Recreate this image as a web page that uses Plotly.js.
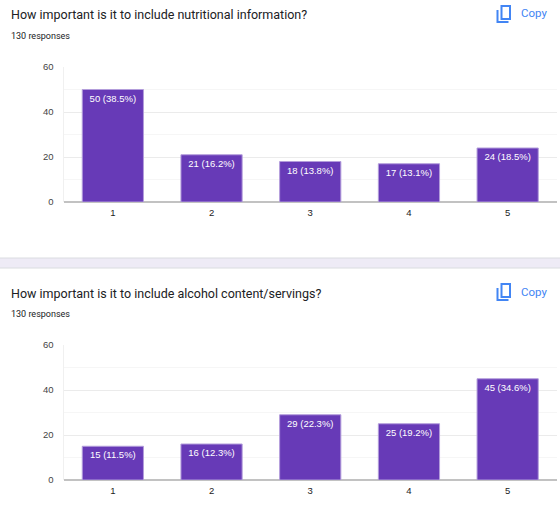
<!DOCTYPE html>
<html>
<head>
<meta charset="utf-8">
<script src="https://cdn.plot.ly/plotly-3.0.1.min.js"></script>
<style>
  html, body { margin: 0; padding: 0; background: #ffffff; }
  #chart { width: 560px; height: 515px; }
</style>
</head>
<body>
<div id="chart"></div>
<script>
const categories = ["1", "2", "3", "4", "5"];

const nutritionCounts = [50, 21, 18, 17, 24];
const nutritionPercents = ["38.5", "16.2", "13.8", "13.1", "18.5"];

const alcoholCounts = [15, 16, 29, 25, 45];
const alcoholPercents = ["11.5", "12.3", "22.3", "19.2", "34.6"];

const questions = [
  "How important is it to include nutritional information?",
  "How important is it to include alcohol content/servings?",
];
const responseLabel = "130 responses";
const yTicks = [0, 20, 40, 60];

const W = 560;
const H = 515;
const px = (x) => x / W;
const py = (y) => 1 - y / H;

const BAR_COLOR = "#673ab7";
const BLUE = "#4285f4";
const TITLE_FONT = "Roboto, Arial, sans-serif";
const CHART_FONT = "'Liberation Sans', Arial, sans-serif";

function barTrace(counts, percents, axisSuffix) {
  return {
    type: "bar",
    x: categories,
    y: counts,
    xaxis: "x" + axisSuffix,
    yaxis: "y" + axisSuffix,
    text: counts.map((c, i) => `${c} (${percents[i]}%)`),
    textposition: "inside",
    insidetextanchor: "end",
    textangle: 0,
    constraintext: "none",
    textfont: { family: CHART_FONT, size: 9.5, color: "#ffffff" },
    marker: { color: BAR_COLOR, line: { color: "#b39ddb", width: 1 } },
    hoverinfo: "none",
  };
}

function xAxis(anchor) {
  return {
    anchor: anchor,
    domain: [px(63.5), px(557)],
    type: "category",
    showgrid: false,
    zeroline: false,
    showline: false,
    ticks: "outside",
    ticklen: 2,
    tickcolor: "rgba(0,0,0,0)",
    tickfont: { family: CHART_FONT, size: 9.5, color: "#222222" },
    fixedrange: true,
  };
}

function yAxis(anchor, top, bottom) {
  return {
    anchor: anchor,
    domain: [py(bottom), py(top)],
    range: [0, 60],
    tickvals: yTicks,
    showgrid: true,
    gridcolor: "#ebebeb",
    gridwidth: 1,
    minor: { dtick: 10, showgrid: true, gridcolor: "#f6f6f6", gridwidth: 1 },
    zeroline: true,
    zerolinecolor: "#c2c2c2",
    zerolinewidth: 2,
    showline: true,
    linecolor: "#f0f0f0",
    linewidth: 1,
    ticks: "outside",
    ticklen: 7,
    tickcolor: "rgba(0,0,0,0)",
    tickfont: { family: CHART_FONT, size: 9.5, color: "#444444" },
    fixedrange: true,
  };
}

function headerAnnotations(title, titleY, responsesY) {
  return [
    {
      text: title, xref: "paper", yref: "paper", x: px(9), y: py(titleY),
      xanchor: "left", yanchor: "middle", showarrow: false,
      font: { family: TITLE_FONT, size: 12.5, color: "#202124" },
    },
    {
      text: responseLabel, xref: "paper", yref: "paper", x: px(9), y: py(responsesY),
      xanchor: "left", yanchor: "middle", showarrow: false,
      font: { family: TITLE_FONT, size: 9, color: "#202124" },
    },
    {
      text: "Copy", xref: "paper", yref: "paper", x: px(519), y: py(titleY - 1.5),
      xanchor: "left", yanchor: "middle", showarrow: false,
      font: { family: TITLE_FONT, size: 11.5, color: BLUE },
    },
  ];
}

// material "content_copy" glyph drawn from shapes
function copyIcon(top) {
  const line = { color: BLUE, width: 2 };
  return [
    {
      type: "rect", xref: "paper", yref: "paper",
      x0: px(501.5), x1: px(510), y0: py(top + 14), y1: py(top + 1),
      line: line, fillcolor: "rgba(0,0,0,0)",
    },
    {
      type: "path", xref: "paper", yref: "paper",
      path: `M ${px(497.5)} ${py(top + 5)} L ${px(497.5)} ${py(top + 17)} L ${px(508.5)} ${py(top + 17)}`,
      line: line,
    },
  ];
}

const separator = {
  type: "rect", xref: "paper", yref: "paper", layer: "below",
  x0: -0.01, x1: 1.01, y0: py(268), y1: py(258),
  fillcolor: "#eeebf6", line: { color: "#dadce0", width: 1 },
};

const traces = [
  barTrace(nutritionCounts, nutritionPercents, ""),
  barTrace(alcoholCounts, alcoholPercents, "2"),
];

const layout = {
  width: W,
  height: H,
  margin: { l: 0, r: 0, t: 0, b: 0 },
  paper_bgcolor: "#ffffff",
  plot_bgcolor: "#ffffff",
  showlegend: false,
  bargap: 0.38,
  xaxis: xAxis("y"),
  yaxis: yAxis("x", 67, 202),
  xaxis2: xAxis("y2"),
  yaxis2: yAxis("x2", 345, 480),
  annotations: [
    ...headerAnnotations(questions[0], 15, 35.5),
    ...headerAnnotations(questions[1], 293, 314),
  ],
  shapes: [separator, ...copyIcon(5), ...copyIcon(283)],
};

Plotly.newPlot("chart", traces, layout, { displayModeBar: false, staticPlot: true });
</script>
</body>
</html>
